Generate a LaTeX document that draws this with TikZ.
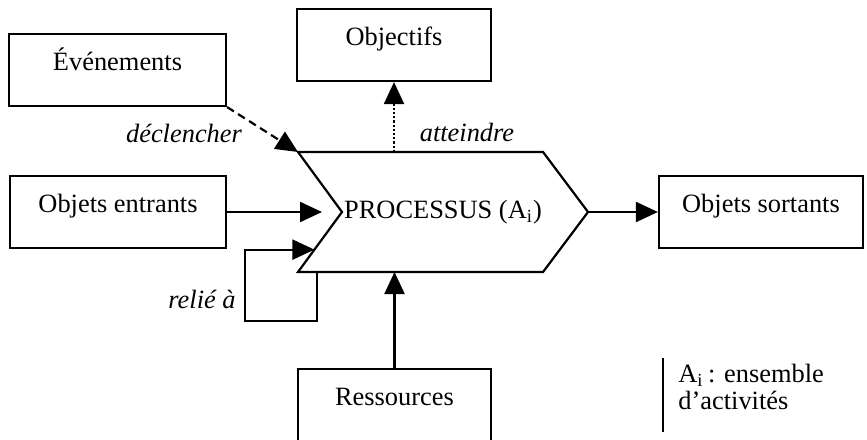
\documentclass[tikz,border=0pt]{standalone}
\usepackage{fontspec}
\setmainfont{Liberation Serif}
\usetikzlibrary{arrows.meta,calc}
\tikzset{
    boite/.style={draw, line width=1.1pt, minimum height=36pt, text height=10pt, text depth=10pt, inner sep=0pt},
    fleche/.style={-{Triangle[length=11pt,width=10pt]}, line width=1.1pt},
    etiq/.style={font=\fontsize{13.2}{15.8}\selectfont\itshape}
}
\begin{document}
\begin{tikzpicture}
  [
    x                 = 0.5pt,
    y                 = -0.5pt,
    every node/.style = {font=\fontsize{13.2}{15.8}\selectfont},
  ]
  \useasboundingbox (0,0) rectangle (867,439);
  \node [boite, minimum width=108.5pt] (ev)  at (117.5,70) {Événements};
  \node [boite, minimum width=97pt]    (obj) at (394,45)   {Objectifs};
  \node [boite, minimum width=108pt]   (ent) at (118,212)  {Objets entrants};
  \node [boite, minimum width=102pt]   (sor) at (761,212)  {Objets sortants};
  \node [boite, minimum width=96.5pt]  (res) at (394.5,405) {Ressources};
  % le processus
  \draw [line width=1.1pt] (298,152) coordinate (phg) -- (543,152) coordinate (phd)
    -- (588,212) coordinate (ppt) -- (543,272) coordinate (pbd)
    -- (298,272) coordinate (pbg) -- (342,212) coordinate (pcr) -- cycle;
  \node (proc) at (443,212) {PROCESSUS (A\textsubscript{i})};
  \coordinate (entree) at ($(pcr)!0.627!(pbg)$);
  \coordinate (boucle) at (317,272);
  \coordinate (coin)   at (245,321);
  \draw [fleche, shorten >=10pt] (ent.east) -- (pcr);
  \draw [fleche] (boucle) |- (coin) |- (entree);
  \draw [fleche, dash pattern=on 4pt off 2.5pt] (ev.south east) -- (phg);
  \draw [fleche, densely dotted] (obj |- phg) -- (obj.south);
  \draw [fleche] (res.north) -- (res |- pbg);
  \draw [fleche] (ppt) -- (sor.west);
  \node [etiq] (decl) at (184,133) {déclencher};
  \node [etiq] (att)  at (467,132) {atteindre};
  \node [etiq] (rel)  at (202,299) {relié à};
  % note
  \node [anchor=north west, align=left, inner sep=0pt,
         font=\fontsize{13.2}{13.5}\selectfont] (note) at (678,364)
    {A\textsubscript{i}\,: ensemble\\d’activités};
  \draw [line width=0.8pt] (663,358) -- (663,432);
\end{tikzpicture}
\end{document}
